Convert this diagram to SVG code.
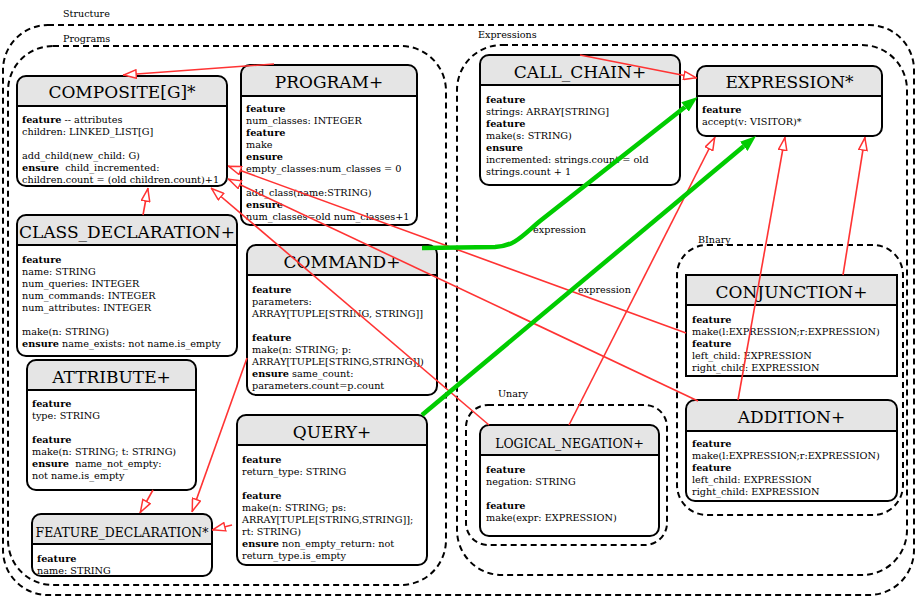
<svg xmlns="http://www.w3.org/2000/svg" width="917" height="597" viewBox="0 0 917 597">
<style>
.cl{fill:none;stroke:#000;stroke-width:2;stroke-dasharray:6,4}
.bg{fill:#fff}
.hd{fill:#e5e5e5}
.ol{fill:none;stroke:#000;stroke-width:2}
.sp{stroke:#000;stroke-width:2}
text{font-family:"DejaVu Serif","Liberation Serif",serif;fill:#000;white-space:pre}
.t{font-size:17px;text-anchor:middle}
.ts{font-size:12.4px;text-anchor:middle}
.b{font-size:9.7px}
.lb{font-size:9.6px}
.k{font-weight:bold}
.e{stroke:#ff3333;stroke-width:1.6;fill:none;marker-end:url(#ho)}
.g{stroke:#00cc00;stroke-width:4.5;fill:none;marker-end:url(#gf)}
</style>
<defs>
<marker id="ho" viewBox="0 0 14 10" refX="14" refY="5" markerWidth="14" markerHeight="10" markerUnits="userSpaceOnUse" orient="auto">
<path d="M0.8,0.8 L13.2,5 L0.8,9.2 Z" fill="#fff" stroke="#ff3333" stroke-width="1.5"/>
</marker>
<marker id="gf" viewBox="0 0 16 12" refX="0" refY="6" markerWidth="16" markerHeight="12" markerUnits="userSpaceOnUse" orient="auto">
<path d="M0,0 L16,6 L0,12 Z" fill="#00cc00"/>
</marker>
</defs>
<rect width="917" height="597" fill="#fff"/>

<g id="clusters">
<rect class="cl" x="3" y="25" width="911" height="570" rx="45"/>
<text class="lb" x="63" y="16.5">Structure</text>
<rect class="cl" x="8" y="46" width="438" height="539" rx="45"/>
<text class="lb" x="63" y="41.5">Programs</text>
<rect class="cl" x="457" y="45" width="450" height="530" rx="45"/>
<text class="lb" x="478" y="37.5">Expressions</text>
<rect class="cl" x="677" y="245" width="226" height="270" rx="30"/>
<text class="lb" x="698" y="242.5">BInary</text>
<rect class="cl" x="466" y="405" width="201" height="140" rx="22"/>
<text class="lb" x="498" y="396.5">Unary</text>
</g>

<g id="composite">
<rect class="bg" x="17" y="76" width="210" height="110" rx="9"/>
<path class="hd" d="M17,106 V85 A9,9 0 0 1 26,76 H218 A9,9 0 0 1 227,85 V106 Z"/>
<line class="sp" x1="17" y1="106" x2="227" y2="106"/>
<rect class="ol" x="17" y="76" width="210" height="110" rx="9"/>
<text class="t" x="122" y="98">COMPOSITE[G]*</text>
<text class="b" x="22" y="122.5"><tspan class="k">feature</tspan> -- attributes</text>
<text class="b" x="22" y="134.5">children: LINKED_LIST[G]</text>
<text class="b" x="22" y="158.5">add_child(new_child: G)</text>
<text class="b" x="22" y="170.5"><tspan class="k">ensure</tspan>  child_incremented:</text>
<text class="b" x="22" y="182.5">children.count = (old children.count)+1</text>
</g>

<g id="program">
<rect class="bg" x="241" y="65" width="176" height="160" rx="9"/>
<path class="hd" d="M241,96 V74 A9,9 0 0 1 250,65 H408 A9,9 0 0 1 417,74 V96 Z"/>
<line class="sp" x1="241" y1="96" x2="417" y2="96"/>
<rect class="ol" x="241" y="65" width="176" height="160" rx="9"/>
<text class="t" x="329" y="88">PROGRAM+</text>
<text class="b k" x="246" y="112">feature</text>
<text class="b" x="246" y="124">num_classes: INTEGER</text>
<text class="b k" x="246" y="136">feature</text>
<text class="b" x="246" y="148">make</text>
<text class="b k" x="246" y="160">ensure</text>
<text class="b" x="246" y="172">empty_classes:num_classes = 0</text>
<text class="b" x="246" y="196">add_class(name:STRING)</text>
<text class="b k" x="246" y="208">ensure</text>
<text class="b" x="246" y="220">num_classes=old num_classes+1</text>
</g>

<g id="class_declaration">
<rect class="bg" x="17" y="215" width="220" height="141" rx="9"/>
<path class="hd" d="M17,245 V224 A9,9 0 0 1 26,215 H228 A9,9 0 0 1 237,224 V245 Z"/>
<line class="sp" x1="17" y1="245" x2="237" y2="245"/>
<rect class="ol" x="17" y="215" width="220" height="141" rx="9"/>
<text class="t" x="127" y="238">CLASS_DECLARATION+</text>
<text class="b k" x="22" y="262.5">feature</text>
<text class="b" x="22" y="274.5">name: STRING</text>
<text class="b" x="22" y="286.5">num_queries: INTEGER</text>
<text class="b" x="22" y="298.5">num_commands: INTEGER</text>
<text class="b" x="22" y="310.5">num_attributes: INTEGER</text>
<text class="b" x="22" y="334.5">make(n: STRING)</text>
<text class="b" x="22" y="346.5"><tspan class="k">ensure</tspan> name_exists: not name.is_empty</text>
</g>

<g id="command">
<rect class="bg" x="247" y="245" width="190" height="150" rx="9"/>
<path class="hd" d="M247,275 V254 A9,9 0 0 1 256,245 H428 A9,9 0 0 1 437,254 V275 Z"/>
<line class="sp" x1="247" y1="275" x2="437" y2="275"/>
<rect class="ol" x="247" y="245" width="190" height="150" rx="9"/>
<text class="t" x="342" y="268">COMMAND+</text>
<text class="b k" x="252" y="292.5">feature</text>
<text class="b" x="252" y="304.5">parameters:</text>
<text class="b" x="252" y="316.5">ARRAY[TUPLE[STRING, STRING]]</text>
<text class="b k" x="252" y="340.5">feature</text>
<text class="b" x="252" y="352.5">make(n: STRING; p:</text>
<text class="b" x="252" y="364.5">ARRAY[TUPLE[STRING,STRING]])</text>
<text class="b" x="252" y="376.5"><tspan class="k">ensure</tspan> same_count:</text>
<text class="b" x="252" y="388.5">parameters.count=p.count</text>
</g>

<g id="attribute">
<rect class="bg" x="27" y="360" width="169" height="130" rx="9"/>
<path class="hd" d="M27,390 V369 A9,9 0 0 1 36,360 H187 A9,9 0 0 1 196,369 V390 Z"/>
<line class="sp" x1="27" y1="390" x2="196" y2="390"/>
<rect class="ol" x="27" y="360" width="169" height="130" rx="9"/>
<text class="t" x="111.5" y="383">ATTRIBUTE+</text>
<text class="b k" x="32" y="406.5">feature</text>
<text class="b" x="32" y="418.5">type: STRING</text>
<text class="b k" x="32" y="442.5">feature</text>
<text class="b" x="32" y="454.5">make(n: STRING; t: STRING)</text>
<text class="b" x="32" y="466.5"><tspan class="k">ensure</tspan>  name_not_empty:</text>
<text class="b" x="32" y="478.5">not name.is_empty</text>
</g>

<g id="feature_declaration">
<rect class="bg" x="32" y="514" width="180" height="62" rx="9"/>
<path class="hd" d="M32,544 V523 A9,9 0 0 1 41,514 H203 A9,9 0 0 1 212,523 V544 Z"/>
<line class="sp" x1="32" y1="544" x2="212" y2="544"/>
<rect class="ol" x="32" y="514" width="180" height="62" rx="9"/>
<text class="ts" x="122" y="536.5">FEATURE_DECLARATION*</text>
<text class="b k" x="37" y="561.5">feature</text>
<text class="b" x="37" y="573.5">name: STRING</text>
</g>

<g id="query">
<rect class="bg" x="237" y="415" width="190" height="150" rx="9"/>
<path class="hd" d="M237,445 V424 A9,9 0 0 1 246,415 H418 A9,9 0 0 1 427,424 V445 Z"/>
<line class="sp" x1="237" y1="445" x2="427" y2="445"/>
<rect class="ol" x="237" y="415" width="190" height="150" rx="9"/>
<text class="t" x="332" y="438">QUERY+</text>
<text class="b k" x="242" y="462.5">feature</text>
<text class="b" x="242" y="474.5">return_type: STRING</text>
<text class="b k" x="242" y="498.5">feature</text>
<text class="b" x="242" y="510.5">make(n: STRING; ps:</text>
<text class="b" x="242" y="522.5">ARRAY[TUPLE[STRING,STRING]];</text>
<text class="b" x="242" y="534.5">rt: STRING)</text>
<text class="b" x="242" y="546.5"><tspan class="k">ensure</tspan> non_empty_return: not</text>
<text class="b" x="242" y="558.5">return_type.is_empty</text>
</g>

<g id="call_chain">
<rect class="bg" x="480" y="55" width="200" height="130" rx="9"/>
<path class="hd" d="M480,85 V64 A9,9 0 0 1 489,55 H671 A9,9 0 0 1 680,64 V85 Z"/>
<line class="sp" x1="480" y1="85" x2="680" y2="85"/>
<rect class="ol" x="480" y="55" width="200" height="130" rx="9"/>
<text class="t" x="580" y="78">CALL_CHAIN+</text>
<text class="b k" x="486" y="102.5">feature</text>
<text class="b" x="486" y="114.5">strings: ARRAY[STRING]</text>
<text class="b k" x="486" y="126.5">feature</text>
<text class="b" x="486" y="138.5">make(s: STRING)</text>
<text class="b k" x="486" y="150.5">ensure</text>
<text class="b" x="486" y="162.5">incremented: strings.count = old</text>
<text class="b" x="486" y="174.5">strings.count + 1</text>
</g>

<g id="expression">
<rect class="bg" x="697" y="66" width="185" height="70" rx="9"/>
<path class="hd" d="M697,96 V75 A9,9 0 0 1 706,66 H873 A9,9 0 0 1 882,75 V96 Z"/>
<line class="sp" x1="697" y1="96" x2="882" y2="96"/>
<rect class="ol" x="697" y="66" width="185" height="70" rx="9"/>
<text class="t" x="789.5" y="88">EXPRESSION*</text>
<text class="b k" x="702" y="112.5">feature</text>
<text class="b" x="702" y="124.5">accept(v: VISITOR)*</text>
</g>

<g id="conjunction">
<rect class="bg" x="686" y="275" width="211" height="101"/>
<rect class="hd" x="686" y="275" width="211" height="30"/>
<line class="sp" x1="686" y1="305" x2="897" y2="305"/>
<rect class="ol" x="686" y="275" width="211" height="101"/>
<text class="t" x="791.5" y="298">CONJUNCTION+</text>
<text class="b k" x="692" y="322.5">feature</text>
<text class="b" x="692" y="334.5">make(l:EXPRESSION;r:EXPRESSION)</text>
<text class="b k" x="692" y="346.5">feature</text>
<text class="b" x="692" y="358.5">left_child: EXPRESSION</text>
<text class="b" x="692" y="370.5">right_child: EXPRESSION</text>
</g>

<g id="addition">
<rect class="bg" x="686" y="400" width="211" height="101" rx="9"/>
<path class="hd" d="M686,431 V409 A9,9 0 0 1 695,400 H888 A9,9 0 0 1 897,409 V431 Z"/>
<line class="sp" x1="686" y1="431" x2="897" y2="431"/>
<rect class="ol" x="686" y="400" width="211" height="101" rx="9"/>
<text class="t" x="791.5" y="423">ADDITION+</text>
<text class="b k" x="692" y="446.5">feature</text>
<text class="b" x="692" y="458.5">make(l:EXPRESSION;r:EXPRESSION)</text>
<text class="b k" x="692" y="470.5">feature</text>
<text class="b" x="692" y="482.5">left_child: EXPRESSION</text>
<text class="b" x="692" y="494.5">right_child: EXPRESSION</text>
</g>

<g id="logical_negation">
<rect class="bg" x="480" y="425" width="179" height="111" rx="9"/>
<path class="hd" d="M480,455 V434 A9,9 0 0 1 489,425 H650 A9,9 0 0 1 659,434 V455 Z"/>
<line class="sp" x1="480" y1="455" x2="659" y2="455"/>
<rect class="ol" x="480" y="425" width="179" height="111" rx="9"/>
<text class="ts" x="569.5" y="447.5">LOGICAL_NEGATION+</text>
<text class="b k" x="486" y="472.5">feature</text>
<text class="b" x="486" y="484.5">negation: STRING</text>
<text class="b k" x="486" y="508.5">feature</text>
<text class="b" x="486" y="520.5">make(expr: EXPRESSION)</text>
</g>

<g id="connectors">
<path class="e" d="M274,64 L123,75"/>
<path class="e" d="M143,215 L148,188"/>
<path class="e" d="M686,333 L228,166"/>
<path class="e" d="M698,401 L228,179"/>
<path class="e" d="M489,425 L211,188"/>
<path class="e" d="M247,358 L192,512"/>
<path class="e" d="M153,490 L140,513"/>
<path class="e" d="M232,525 L212,530"/>
<path class="e" d="M580,55 L697,78"/>
<path class="e" d="M569,425 L715,137"/>
<path class="e" d="M738,400 L785,137"/>
<path class="e" d="M843,275 L865,137"/>
<path class="g" d="M422,248 L495,247 C515,246 522,236 540,221 L685,107"/>
<path class="g" d="M422,415 L743.7,146.3"/>
<text class="b" x="533" y="232.5">expression</text>
<text class="b" x="578" y="292.5">expression</text>
</g>
</svg>
